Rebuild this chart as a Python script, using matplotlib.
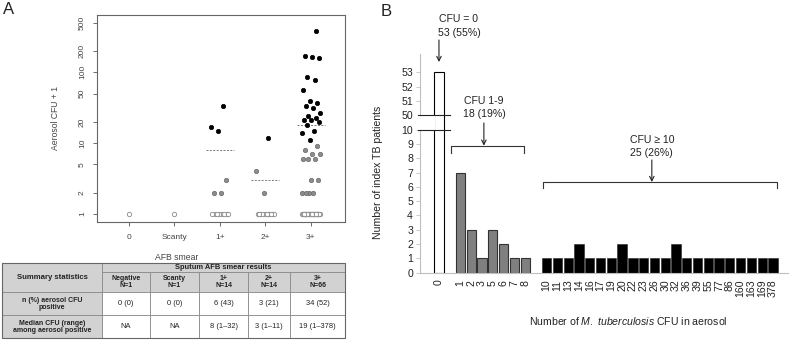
import numpy as np
import matplotlib.pyplot as plt
from matplotlib.patches import Rectangle
from matplotlib.ticker import NullLocator

plt.rcParams['font.family'] = ['Liberation Sans', 'DejaVu Sans']
plt.rcParams['mathtext.fontset'] = 'custom'
plt.rcParams['mathtext.rm'] = 'Liberation Sans'
plt.rcParams['mathtext.it'] = 'Liberation Sans:italic'

# ---- panel A data: aerosol CFU per patient, by sputum smear grade ----
smear_cats = ['0', 'Scanty', '1+', '2+', '3+']
cfu_neg = [0]
cfu_scanty = [0]
cfu_1p = [0] * 8 + [1, 1, 2, 14, 16, 32]
cfu_2p = [0] * 11 + [1, 3, 11]
cfu_3p = [0] * 32 + [1, 1, 1, 1, 2, 2, 5, 5, 5, 6, 6, 7, 8,
                     10, 13, 14, 17, 19, 20, 20, 22, 23, 26, 30, 32, 36, 39,
                     55, 77, 86, 160, 163, 169, 378]
cfu_groups = [cfu_neg, cfu_scanty, cfu_1p, cfu_2p, cfu_3p]
median_line = [None, None, 8, 3, 18]
yticks_a = [1, 2, 5, 10, 20, 50, 100, 200, 500]

# ---- table ----
tab_cols = ['Negative\nN=1', 'Scanty\nN=1', '1+\nN=14', '2+\nN=14', '3+\nN=66']
tab_pos = ['0 (0)', '0 (0)', '6 (43)', '3 (21)', '34 (52)']
tab_med = ['NA', 'NA', '8 (1\u201332)', '3 (1\u201311)', '19 (1\u2013378)']

# ---- panel B data ----
cfu_b = ['0', '1', '2', '3', '5', '6', '7', '8',
         '10', '11', '13', '14', '16', '17', '19', '20', '22', '23', '26',
         '30', '32', '36', '39', '55', '77', '86', '160', '163', '169', '378']
count_b = [53, 7, 3, 1, 3, 2, 1, 1,
           1, 1, 1, 2, 1, 1, 1, 2, 1, 1, 1, 1, 2, 1, 1, 1, 1, 1, 1, 1, 1, 1]

fig = plt.figure(figsize=(7.9, 3.42), dpi=100)
W, H = 790.0, 342.0


def box(x0, y0, x1, y1):
    # pixel box (top-left origin) -> figure rect
    return [x0 / W, 1 - y1 / H, (x1 - x0) / W, (y1 - y0) / H]


# ================= panel A =================
axa = fig.add_axes(box(97, 15, 345, 222))
tc = '#444444'
for i, vals in enumerate(cfu_groups):
    v = np.array(vals)
    n = len(v)
    off = 0.21 * ((((np.arange(n) + 1) * 0.618034) % 1) * 2 - 1)
    if n == 1:
        off = np.zeros(1)
    x = i + 1 + off
    y = v + 1
    z = v == 0
    g = (v >= 1) & (v < 10)
    b = v >= 10
    axa.scatter(x[z], y[z], s=10, facecolor='white', edgecolor='#8a8a8a', lw=0.6, zorder=3)
    axa.scatter(x[g], y[g], s=10, facecolor='#8c8c8c', edgecolor='#6a6a6a', lw=0.5, zorder=3)
    axa.scatter(x[b], y[b], s=10, facecolor='black', edgecolor='black', lw=0.5, zorder=4)
    if median_line[i] is not None:
        axa.hlines(median_line[i], i + 1 - 0.31, i + 1 + 0.31, colors='#777777',
                   linestyles=(0, (2, 1.5)), lw=0.7, zorder=2)

axa.set_yscale('log')
axa.set_ylim(0.77, 646)
axa.set_xlim(0.3, 5.75)
axa.set_yticks(yticks_a)
axa.set_yticklabels([str(t) for t in yticks_a])
axa.yaxis.set_minor_locator(NullLocator())
for lbl in axa.get_yticklabels():
    lbl.set_rotation(90)
    lbl.set_va('center')
axa.set_xticks(range(1, 6))
axa.set_xticklabels(smear_cats)
axa.tick_params(axis='both', labelsize=6, colors='#555555', labelcolor=tc,
                length=3, width=0.6)
axa.tick_params(axis='x', pad=5.5)
axa.tick_params(axis='y', pad=5)
for s in axa.spines.values():
    s.set_color('#666666')
    s.set_linewidth(0.8)
axa.set_ylabel('Aerosol CFU + 1', fontsize=6.2, color=tc, labelpad=12)
axa.yaxis.set_label_coords(-(97 - 60) / 248, 0.5)
fig.text(177 / W, 1 - 258 / H, 'AFB smear', fontsize=6.2, color=tc, ha='center', va='center')

# ================= table =================
axt = fig.add_axes([0, 0, 1, 1], zorder=0)
axt.set_xlim(0, W)
axt.set_ylim(H, 0)
axt.axis('off')
ce = [2, 102, 150, 199, 248, 290, 345]
re = [263, 272, 292, 315, 338]
hdr = '#d2d2d2'
bc = '#8a8a8a'


def cell(x0, x1, y0, y1, txt, bold, bg, fs):
    axt.add_patch(Rectangle((x0, y0), x1 - x0, y1 - y0, facecolor=bg,
                            edgecolor=bc, lw=0.6))
    axt.text((x0 + x1) / 2, (y0 + y1) / 2 + 0.3, txt, ha='center', va='center',
             fontsize=fs, fontweight='bold' if bold else 'normal',
             color='#222222', linespacing=1.05)


cell(ce[0], ce[1], re[0], re[2], 'Summary statistics', True, hdr, 5.6)
cell(ce[1], ce[6], re[0], re[1], 'Sputum AFB smear results', True, hdr, 5.4)
for j in range(5):
    cell(ce[j + 1], ce[j + 2], re[1], re[2], tab_cols[j], True, hdr, 5.0)
    cell(ce[j + 1], ce[j + 2], re[2], re[3], tab_pos[j], False, 'white', 5.4)
    cell(ce[j + 1], ce[j + 2], re[3], re[4], tab_med[j], False, 'white', 5.4)
cell(ce[0], ce[1], re[2], re[3], 'n (%) aerosol CFU\npositive', True, hdr, 5.0)
cell(ce[0], ce[1], re[3], re[4], 'Median CFU (range)\namong aerosol positive', True, hdr, 5.0)
axt.add_patch(Rectangle((ce[0], re[0]), ce[-1] - ce[0], re[-1] - re[0],
                        facecolor='none', edgecolor='#666666', lw=0.8))

# ================= panel B =================
axb = fig.add_axes(box(420, 54.3, 788, 272.7))
slots = []
colors = []
for k, lab in enumerate(cfu_b):
    v = int(lab)
    if v == 0:
        slots.append(k)
        colors.append(('white', 'black', 0.8))
    elif v < 10:
        slots.append(k + 1)
        colors.append(('#808080', '#333333', 0.8))
    else:
        slots.append(k + 2)
        colors.append(('black', '#222222', 0.4))


def brk(c):
    # y-axis break: 50..53 drawn right above 10
    return c if c <= 10 else c - 39


heights = [brk(c) for c in count_b]
axb.bar(slots, heights, width=0.86, color=[c[0] for c in colors],
        edgecolor=[c[1] for c in colors], linewidth=[c[2] for c in colors], zorder=2)
axb.set_xlim(-1.76, 32.4)
axb.set_ylim(0, 15.27)
axb.set_xticks(slots)
axb.set_xticklabels(cfu_b, rotation=90, va='top', ha='center')
yt = list(range(0, 11)) + [50, 51, 52, 53]
axb.set_yticks([brk(v) for v in yt])
axb.set_yticklabels([str(v) for v in yt])
fs_b = 7.6
axb.tick_params(axis='x', length=0, pad=5, labelsize=fs_b, labelcolor='#222222')
axb.tick_params(axis='y', length=3, width=0.6, color='#bfbfbf', pad=2,
                labelsize=fs_b, labelcolor='#222222')
for s in ['top', 'right']:
    axb.spines[s].set_visible(False)
for s in ['left', 'bottom']:
    axb.spines[s].set_color('#bfbfbf')
    axb.spines[s].set_linewidth(0.8)

# axis break
axb.add_patch(Rectangle((-2.3, 10), 1.9, 1, facecolor='white', edgecolor='none',
                        zorder=3, clip_on=False))
for yb in (10, 11):
    axb.plot([-1.95, 1.02], [yb, yb], color='#222222', lw=0.8, zorder=4, clip_on=False)

axb.set_ylabel('Number of index TB patients', fontsize=fs_b, color='#222222')
axb.yaxis.set_label_coords(-(420 - 383) / 368, 0.46)
axb.set_xlabel(r'Number of $\it{M.\ tuberculosis}$ CFU in aerosol', fontsize=fs_b,
               color='#222222')
axb.xaxis.set_label_coords((628 - 420) / 368, -(315 - 272.7) / 218.4)

arrow = dict(arrowstyle='->', color='#222222', lw=0.8, shrinkA=0, shrinkB=0,
             mutation_scale=8)
tk = dict(ha='center', va='center', fontsize=fs_b, color='#222222',
          linespacing=1.4, clip_on=False)

axb.text(1.86, 17.25, 'CFU = 0\n53 (55%)', **tk)
axb.annotate('', xy=(0, 14.73), xytext=(0, 16.27), arrowprops=arrow,
             annotation_clip=False)

axb.text(4.17, 11.55, 'CFU 1-9\n18 (19%)', **tk)
axb.annotate('', xy=(4.17, 8.88), xytext=(4.17, 10.47), arrowprops=arrow,
             annotation_clip=False)
axb.plot([1.11, 1.11, 7.88, 7.88], [8.37, 8.88, 8.88, 8.37], color='#333333',
         lw=0.8, clip_on=False)

axb.text(19.76, 8.83, 'CFU \u2265 10\n25 (26%)', **tk)
axb.annotate('', xy=(19.76, 6.34), xytext=(19.76, 7.88), arrowprops=arrow,
             annotation_clip=False)
axb.plot([9.65, 9.65, 31.35, 31.35], [5.92, 6.34, 6.34, 5.92], color='#333333',
         lw=0.8, clip_on=False)

fig.text(3 / W, 1 - 10 / H, 'A', fontsize=12, va='center', ha='left', color='#222222')
fig.text(381 / W, 1 - 12 / H, 'B', fontsize=12, va='center', ha='left', color='#222222')

fig.savefig('out.png', dpi=100)
